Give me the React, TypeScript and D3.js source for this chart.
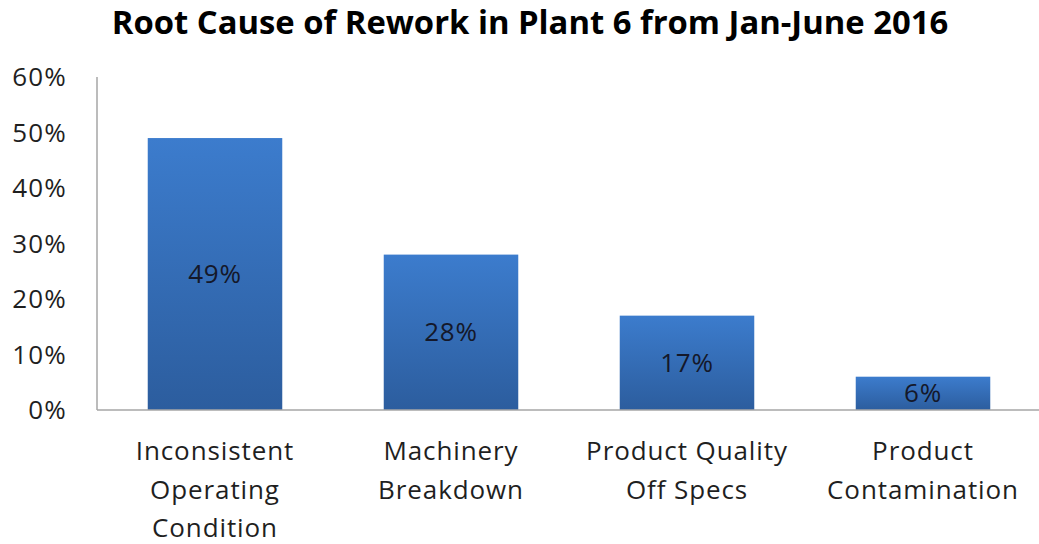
import React from "react";
import * as d3 from "d3";

const categories: string[][] = [
  ["Inconsistent", "Operating", "Condition"],
  ["Machinery", "Breakdown"],
  ["Product Quality", "Off Specs"],
  ["Product", "Contamination"],
];
const values: number[] = [0.49, 0.28, 0.17, 0.06];
const ticks: number[] = [0, 0.1, 0.2, 0.3, 0.4, 0.5, 0.6];
const title = "Root Cause of Rework in Plant 6 from Jan-June 2016";

const W = 1039;
const H = 544;
const left = 97;
const right = 1041;
const top = 77;
const bottom = 410;

export default function App() {
  const x = d3
    .scaleBand<number>()
    .domain(values.map((_, i) => i))
    .range([left, right])
    .paddingInner(0.43)
    .paddingOuter(0.215);
  const y = d3.scaleLinear().domain([0, 0.6]).range([bottom, top]);
  const fmt = d3.format(".0%");
  const font = "'Open Sans', 'Noto Sans', sans-serif";
  return (
    <svg
      width={W}
      height={H}
      style={{ position: "absolute", left: 0, top: 0, background: "#fff" }}
    >
      <defs>
        <linearGradient id="barGrad" x1="0" y1="0" x2="0" y2="1">
          <stop offset="0%" stopColor="#3c7ccd" />
          <stop offset="100%" stopColor="#2c5d9e" />
        </linearGradient>
      </defs>
      <rect width={W} height={H} fill="#fff" />
      <text
        x={530}
        y={34}
        textAnchor="middle"
        fontFamily={font}
        fontWeight="bold"
        fontSize={32.8}
        fill="#000"
      >
        {title}
      </text>
      {ticks.map((t) => (
        <text
          key={t}
          x={67}
          y={y(t)}
          dy="0.35em"
          textAnchor="end"
          fontFamily={font}
          fontSize={26}
          letterSpacing={1.2}
          fill="#1f1f1f"
        >
          {fmt(t)}
        </text>
      ))}
      {values.map((v, i) => (
        <g key={i}>
          <rect
            x={x(i)}
            y={y(v)}
            width={x.bandwidth()}
            height={y(0) - y(v)}
            fill="url(#barGrad)"
          />
          <text
            x={(x(i) as number) + x.bandwidth() / 2}
            y={(y(v) + y(0)) / 2}
            dy="0.35em"
            textAnchor="middle"
            fontFamily={font}
            fontSize={26}
            letterSpacing={0.8}
            fill="#14182a"
          >
            {fmt(v)}
          </text>
        </g>
      ))}
      <line x1={left} x2={left} y1={top} y2={bottom} stroke="#a6a6a6" strokeWidth={1.5} />
      <line x1={left} x2={W} y1={bottom} y2={bottom} stroke="#a6a6a6" strokeWidth={1.5} />
      {categories.map((lines, i) => (
        <text
          key={i}
          x={(x(i) as number) + x.bandwidth() / 2}
          textAnchor="middle"
          fontFamily={font}
          fontSize={26}
          letterSpacing={0.9}
          fill="#1f1f1f"
        >
          {lines.map((l, j) => (
            <tspan key={j} x={(x(i) as number) + x.bandwidth() / 2} y={451 + j * 38.5} dy="0.35em">
              {l}
            </tspan>
          ))}
        </text>
      ))}
    </svg>
  );
}
